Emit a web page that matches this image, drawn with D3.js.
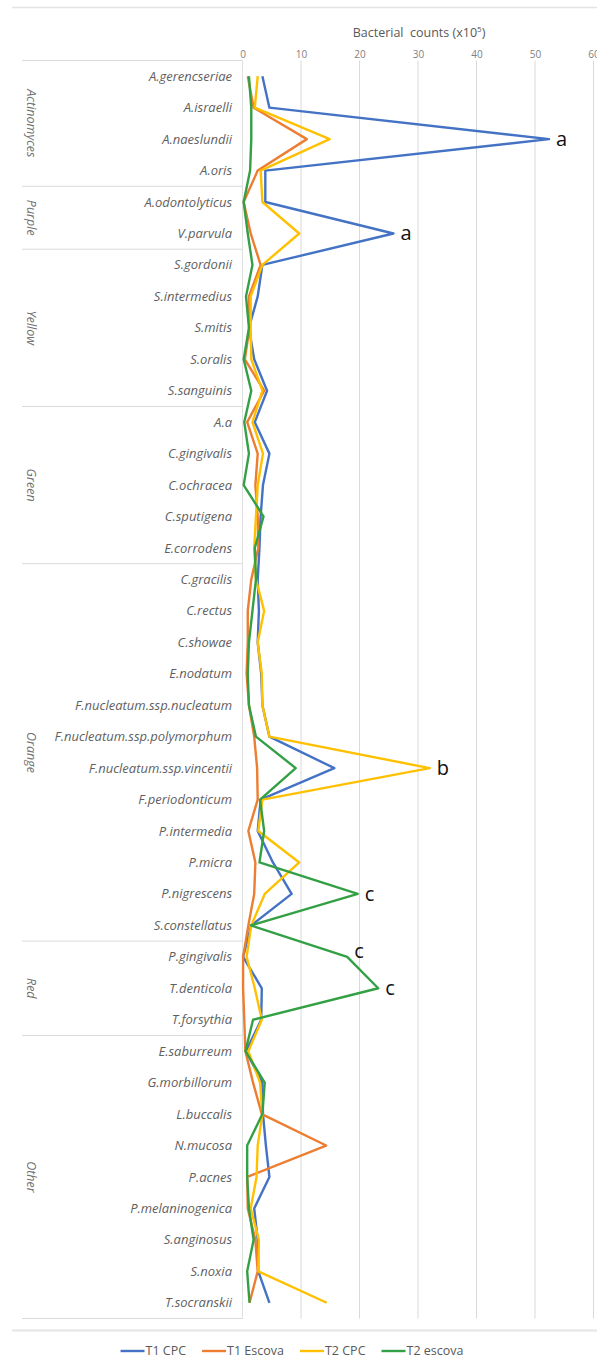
<!DOCTYPE html>
<html>
<head>
<meta charset="utf-8">
<script src="https://cdn.jsdelivr.net/npm/d3@7"></script>
<style>
  html, body { margin: 0; padding: 0; background: #fff; }
  #chart { width: 597px; height: 1364px; }
</style>
</head>
<body>
<div id="chart"></div>
<script>
// species on the vertical axis, top to bottom
const categories = [
  "A.gerencseriae", "A.israelli", "A.naeslundii", "A.oris",
  "A.odontolyticus", "V.parvula",
  "S.gordonii", "S.intermedius", "S.mitis", "S.oralis", "S.sanguinis",
  "A.a", "C.gingivalis", "C.ochracea", "C.sputigena", "E.corrodens",
  "C.gracilis", "C.rectus", "C.showae", "E.nodatum",
  "F.nucleatum.ssp.nucleatum", "F.nucleatum.ssp.polymorphum", "F.nucleatum.ssp.vincentii",
  "F.periodonticum", "P.intermedia", "P.micra", "P.nigrescens", "S.constellatus",
  "P.gingivalis", "T.denticola", "T.forsythia",
  "E.saburreum", "G.morbillorum", "L.buccalis", "N.mucosa", "P.acnes",
  "P.melaninogenica", "S.anginosus", "S.noxia", "T.socranskii"
];

// complexes (groups) and how many species each holds
const groupNames = ["Actinomyces", "Purple", "Yellow", "Green", "Orange", "Red", "Other"];
const groupSizes = [4, 2, 5, 5, 12, 3, 9];

const seriesNames = ["T1 CPC", "T1 Escova", "T2 CPC", "T2 escova"];
const seriesColors = ["#4472c4", "#ed7d31", "#ffc000", "#34a045"];

// bacterial counts (x10^5)
const t1CPC = [
  3.4, 4.6, 52.4, 3.9,
  3.9, 25.8,
  3.4, 2.6, 1.1, 2.0, 4.2,
  2.1, 4.6, 3.5, 3.1, 2.9,
  2.6, 2.8, 2.6, 3.2, 3.4, 4.6, 15.7, 3.1, 2.6, 5.2, 8.4, 1.5,
  0.1, 3.3, 3.2,
  0.6, 3.4, 3.5, 4.0, 4.6, 2.0, 2.6, 2.7, 4.6
];
const t1Escova = [
  0.9, 1.9, 11.0, 2.6,
  0.2, 1.4,
  3.1, 1.1, 1.2, 0.4, 3.7,
  0.8, 2.6, 2.2, 2.6, 2.7,
  1.5, 0.9, 0.9, 0.7, 1.1, 2.0, 2.5, 2.6, 1.0, 2.2, 2.0, 1.0,
  0.1, 0.1, 0.3,
  0.5, 1.8, 3.3, 14.3, 0.8, 0.9, 2.2, 2.6, 1.2
];
const t2CPC = [
  2.6, 2.1, 14.9, 3.1,
  3.4, 9.7,
  3.4, 1.4, 1.4, 1.5, 3.4,
  1.7, 3.5, 2.6, 2.3, 2.0,
  2.3, 3.7, 2.6, 3.3, 3.4, 4.6, 32.0, 3.4, 2.7, 9.7, 3.8, 1.5,
  0.7, 2.1, 3.3,
  1.0, 3.0, 3.4, 2.6, 2.4, 1.4, 2.8, 2.7, 14.4
];
const t2Escova = [
  1.1, 1.5, 1.5, 1.3,
  0.2, 0.9,
  1.7, 0.6, 1.1, 0.2, 1.5,
  0.3, 1.1, 0.2, 3.6, 2.1,
  2.3, 1.7, 1.1, 0.9, 1.1, 2.3, 9.1, 3.0, 3.7, 2.9, 19.7, 1.4,
  17.9, 23.2, 1.8,
  0.5, 3.8, 3.4, 0.8, 0.8, 1.1, 1.9, 0.8, 1.2
];

const xTicks = [0, 10, 20, 30, 40, 50, 60];

// significance letters next to the peaks
const annotations = [
  { category: "A.naeslundii", series: 0, label: "a" },
  { category: "V.parvula", series: 0, label: "a" },
  { category: "F.nucleatum.ssp.vincentii", series: 2, label: "b" },
  { category: "P.nigrescens", series: 3, label: "c" },
  { category: "P.gingivalis", series: 3, label: "c" },
  { category: "T.denticola", series: 3, label: "c" }
];

const allSeries = [t1CPC, t1Escova, t2CPC, t2Escova];

const width = 597;
const height = 1364;
const font = "'Open Sans', 'Liberation Sans', sans-serif";
const textGray = "#595959";

const svg = d3.select("#chart")
  .append("svg")
  .attr("width", width)
  .attr("height", height)
  .style("background", "#fff")
  .style("font-family", font);

const x = d3.scaleLinear().domain([0, 60]).range([242.5, 593.5]);
const y = d3.scaleBand().domain(categories).range([60.5, 1318.5]).padding(0);
const yc = c => y(c) + y.bandwidth() / 2;

const plotTop = y.range()[0];
const plotBottom = y.range()[1];
const panelLeft = 22;

// thin frame lines at top and above the legend
svg.append("line")
  .attr("x1", 12).attr("x2", width)
  .attr("y1", 7.5).attr("y2", 7.5)
  .attr("stroke", "#e4e4e4").attr("stroke-width", 1.5);
svg.append("line")
  .attr("x1", 12).attr("x2", width)
  .attr("y1", 1330.5).attr("y2", 1330.5)
  .attr("stroke", "#e4e4e4").attr("stroke-width", 2);

// vertical grid
svg.append("g")
  .selectAll("line")
  .data(xTicks)
  .join("line")
  .attr("x1", d => x(d)).attr("x2", d => x(d))
  .attr("y1", plotTop).attr("y2", plotBottom)
  .attr("stroke", d => d === 0 ? "#e0e0e0" : "#d9d9d9")
  .attr("stroke-width", 1);

// axis on top
const axis = svg.append("g")
  .attr("transform", `translate(0,${plotTop})`)
  .call(d3.axisTop(x).tickValues(xTicks).tickSize(0).tickPadding(3));
axis.select(".domain").remove();
axis.selectAll("text")
  .attr("fill", "#808080")
  .attr("font-size", 10)
  .attr("font-family", font);

// axis title
const title = svg.append("text")
  .attr("x", 419)
  .attr("y", 37)
  .attr("text-anchor", "middle")
  .attr("fill", textGray)
  .attr("font-size", 12.5)
  .attr("xml:space", "preserve");
title.append("tspan").text("Bacterial  counts (x10");
title.append("tspan").attr("font-size", 8).attr("dy", -5).text("5");
title.append("tspan").attr("dy", 5).text(")");

// label panel: outer lines and group separators
let start = 0;
const groups = groupNames.map((name, i) => {
  const g = { name, first: categories[start], last: categories[start + groupSizes[i] - 1] };
  start += groupSizes[i];
  return g;
});

const panel = svg.append("g");
panel.selectAll("line.sep")
  .data(groups)
  .join("line")
  .attr("class", "sep")
  .attr("x1", panelLeft).attr("x2", x(0))
  .attr("y1", d => y(d.first)).attr("y2", d => y(d.first))
  .attr("stroke", "#d9d9d9");
panel.append("line")
  .attr("x1", panelLeft).attr("x2", x(0))
  .attr("y1", plotBottom).attr("y2", plotBottom)
  .attr("stroke", "#d9d9d9");

panel.selectAll("text.group")
  .data(groups)
  .join("text")
  .attr("class", "group")
  .attr("transform", d => {
    const cy = (y(d.first) + y(d.last) + y.bandwidth()) / 2;
    return `translate(31,${cy}) rotate(90)`;
  })
  .attr("text-anchor", "middle")
  .attr("dy", "0.35em")
  .attr("font-size", 12.5)
  .attr("font-style", "italic")
  .attr("fill", "#707070")
  .text(d => d.name);

// species labels
svg.append("g")
  .selectAll("text")
  .data(categories)
  .join("text")
  .attr("x", 232)
  .attr("y", d => yc(d))
  .attr("dy", "0.35em")
  .attr("text-anchor", "end")
  .attr("font-size", 13)
  .attr("font-style", "italic")
  .attr("fill", "#5f5f5f")
  .text(d => d);

// series lines
const line = d3.line()
  .x(d => x(d.v))
  .y(d => yc(d.c));

svg.append("g")
  .selectAll("path")
  .data(allSeries)
  .join("path")
  .attr("d", vals => line(vals.map((v, i) => ({ c: categories[i], v }))))
  .attr("fill", "none")
  .attr("stroke", (d, i) => seriesColors[i])
  .attr("stroke-width", 2.4)
  .attr("stroke-linejoin", "round");

// peak letters
svg.append("g")
  .selectAll("text")
  .data(annotations)
  .join("text")
  .attr("x", d => x(allSeries[d.series][categories.indexOf(d.category)]) + 7)
  .attr("y", d => yc(d.category) + (d.category === "P.gingivalis" ? -6 : 0))
  .attr("dy", "0.35em")
  .attr("font-size", 20)
  .attr("fill", "#111")
  .text(d => d.label);

// legend
const legend = svg.append("g").attr("transform", "translate(0,1351)");
const items = legend.selectAll("g")
  .data(seriesNames)
  .join("g");
items.append("line")
  .attr("x1", 0).attr("x2", 24)
  .attr("stroke", (d, i) => seriesColors[i])
  .attr("stroke-width", 2.4);
items.append("text")
  .attr("x", 25)
  .attr("dy", "0.35em")
  .attr("font-size", 12.5)
  .attr("fill", textGray)
  .text(d => d);

let lx = 0;
const offsets = [];
items.each(function () {
  offsets.push(lx);
  lx += 25 + this.querySelector("text").getComputedTextLength() + 16;
});
const legendStart = 292 - (lx - 16) / 2;
items.attr("transform", (d, i) => `translate(${legendStart + offsets[i]},0)`);
</script>
</body>
</html>
